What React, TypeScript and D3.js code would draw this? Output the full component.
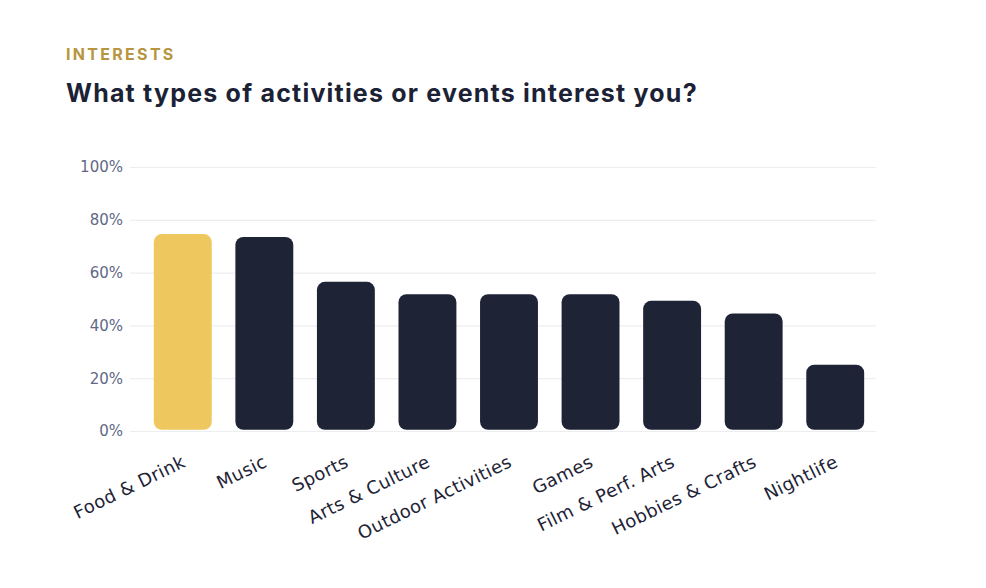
import * as d3 from "d3";
import { useRef, useEffect } from "react";

const categories = [
  "Food & Drink",
  "Music",
  "Sports",
  "Arts & Culture",
  "Outdoor Activities",
  "Games",
  "Film & Perf. Arts",
  "Hobbies & Crafts",
  "Nightlife",
];
const shares = [74.6, 73.5, 56.5, 51.8, 51.8, 51.8, 49.3, 44.5, 25.1];
const yTicks = [0, 20, 40, 60, 80, 100];
const highlight = "Food & Drink";

const width = 986;
const height = 588;
const marginLeft = 142;
const marginRight = 110;
const marginTop = 167;
const marginBottom = 157;

export default function App() {
  const gy = useRef<SVGGElement | null>(null);

  const x = d3
    .scaleBand<string>()
    .domain(categories)
    .range([marginLeft, width - marginRight])
    .paddingInner(0.29)
    .paddingOuter(0.145);

  const y = d3
    .scaleLinear()
    .domain([0, 100])
    .range([height - marginBottom, marginTop]);

  useEffect(() => {
    if (!gy.current) return;
    const g = d3.select(gy.current);
    g.call(
      d3
        .axisLeft(y)
        .tickValues(yTicks)
        .tickSize(-(width - marginRight - 130))
        .tickPadding(7)
        .tickFormat((d) => `${d}%`)
    );
    g.select(".domain").remove();
    g.selectAll(".tick line").attr("stroke", "#eeeef1").attr("stroke-width", 1.2);
    g.selectAll(".tick text")
      .attr("fill", "#5f6886")
      .attr("font-size", 15)
      .attr("font-family", "'DejaVu Sans', sans-serif");
  }, [y]);

  return (
    <svg width={width} height={height} style={{ display: "block", margin: -8 }}>
      <text
        x={66}
        y={60}
        fill="#b8953f"
        fontFamily="Inter, sans-serif"
        fontWeight={700}
        fontSize={16}
        letterSpacing={2.3}
      >
        INTERESTS
      </text>
      <text
        x={66}
        y={102}
        fill="#1c2235"
        fontFamily="Inter, sans-serif"
        fontWeight={700}
        fontSize={25}
        letterSpacing={1.2}
      >
        What types of activities or events interest you?
      </text>

      <g ref={gy} transform={`translate(130,0)`} />

      {categories.map((c, i) => (
        <rect
          key={c}
          x={x(c)!}
          y={y(shares[i])}
          width={x.bandwidth()}
          height={y(0) - y(shares[i]) - 1.2}
          rx={8}
          ry={8}
          fill={c === highlight ? "#eec75e" : "#1e2336"}
        />
      ))}

      {categories.map((c) => (
        <text
          key={c}
          transform={`translate(${x(c)! + x.bandwidth() / 2 + 4},${466}) rotate(-26)`}
          textAnchor="end"
          fill="#1e2336"
          fontFamily="'DejaVu Sans', sans-serif"
          fontSize={18}
          letterSpacing={0.4}
        >
          {c}
        </text>
      ))}
    </svg>
  );
}
